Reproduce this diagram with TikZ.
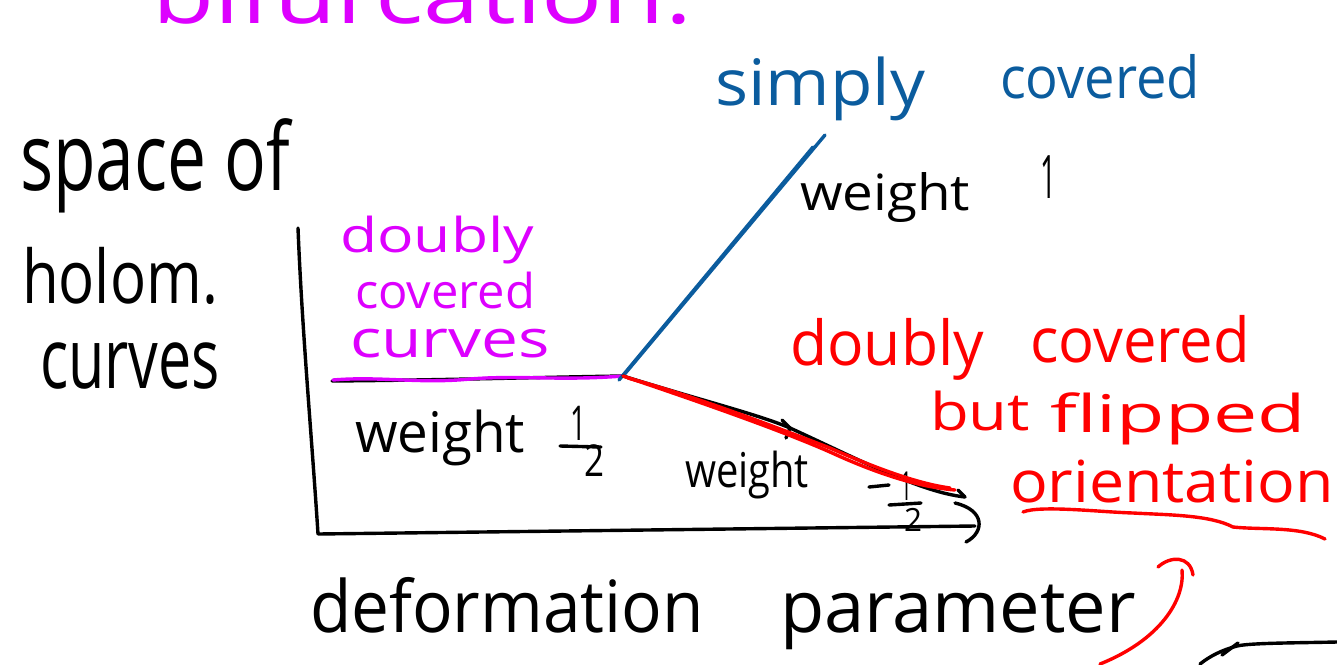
\documentclass[tikz,border=0pt]{standalone}
\usepackage{fontspec}
\setmainfont{Open Sans}
\usepackage{graphicx}
\usetikzlibrary{arrows.meta}
\definecolor{mag}{HTML}{DD00FF}
\definecolor{blu}{HTML}{0B5C9E}
\definecolor{rd}{HTML}{FF0000}
\newcommand\hw[3]{\fontsize{#1}{#1}\selectfont\resizebox{#2}{\height}{#3}}
\begin{document}
\begin{tikzpicture}[x=0.5pt,y=-0.5pt,line cap=round,line join=round,
  txt/.style={anchor=base west,inner sep=0pt,outer sep=0pt},
  ink/.style={line width=1.7pt}]
\useasboundingbox (0,0) rectangle (1337,664);
\clip (0,0) rectangle (1337,664);
% texts
\node[txt,text=mag] (bif) at (152,24) {\hw{40pt}{270pt}{bifurcation.}};
\node[txt] (sp) at (20,190) {\hw{47pt}{135pt}{space of}};
\node[txt] (ho) at (22,303) {\hw{37pt}{98pt}{holom.}};
\node[txt] (cu) at (40,388) {\hw{42pt}{90pt}{curves}};
\node[txt,text=mag] (d1) at (340,252) {\hw{24pt}{97pt}{doubly}};
\node[txt,text=mag] (d2) at (355,308) {\hw{24pt}{90pt}{covered}};
\node[txt,text=mag] (d3) at (350,357) {\hw{26pt}{100pt}{curves}};
\node[txt,text=blu] (s1) at (715,105) {\hw{32pt}{105pt}{simply}};
\node[txt,text=blu] (s2) at (1000,98) {\hw{29pt}{100pt}{covered}};
\node[txt] (w1) at (800,210) {\hw{25pt}{85pt}{weight}};
\node[txt] (one) at (1040,198) {\hw{30pt}{8pt}{1}};
\node[txt,text=rd] (r1) at (790,365) {\hw{31pt}{97pt}{doubly}};
\node[txt,text=rd] (r2) at (1030,362) {\hw{31pt}{110pt}{covered}};
\node[txt,text=rd] (r3) at (930,430) {\hw{26pt}{50pt}{but}};
\node[txt,text=rd] (r4) at (1050,432) {\hw{26pt}{128pt}{flipped}};
\node[txt,text=rd] (r5) at (1010,502) {\hw{29pt}{162pt}{orientation}};
\node[txt] (wh) at (355,452) {\hw{28pt}{85pt}{weight}};
\node[txt] (fh1) at (570,440) {\hw{24pt}{8pt}{1}};
\node[txt] (fh2) at (584,476) {\hw{22pt}{10pt}{2}};
\node[txt] (wm) at (685,487) {\hw{24pt}{62pt}{weight}};
\node[txt] (fm1) at (900,500) {\hw{20pt}{6pt}{1}};
\node[txt] (fm2) at (904,531) {\hw{16pt}{9pt}{2}};
\node[txt] (de) at (310,632) {\hw{36pt}{197pt}{deformation}};
\node[txt] (pa) at (780,632) {\hw{36pt}{178pt}{parameter}};
% fraction bars
\draw[ink] (560,446) -- (601,447);
\draw[ink] (869,487) -- (889,485);
\draw[ink] (889,505) -- (921,503);
% axes
\draw[ink] (298,228) .. controls (302,330) and (312,440) .. (318,534) -- (975,526);
\draw[ink] (955,503) .. controls (985,510) and (985,532) .. (966,542);
% branches
\coordinate (bp) at (623,376);
\draw[ink] (332,381) .. controls (450,380) and (550,377) .. (bp);
\draw[ink,mag] (333,380) .. controls (380,376) and (420,384) .. (470,379)
  .. controls (520,375) and (560,381) .. (bp);
\draw[ink,blu] (bp) -- (825,135);
\draw[ink,blu] (619,380) -- (813,147);
\draw[ink] (bp) .. controls (700,400) and (760,415) .. (790,428)
  .. controls (860,460) and (920,492) .. (965,497);
\draw[ink] (782,420) -- (790,428) -- (786,438);
\draw[ink] (958,490) -- (965,497);
\draw[ink,rd] (bp) .. controls (700,402) and (780,430) .. (830,452)
  .. controls (880,475) and (920,487) .. (955,490);
\draw[ink,rd] (628,378) .. controls (700,398) and (770,425) .. (830,448)
  .. controls (880,470) and (920,484) .. (950,488);
% underline
\draw[ink,rd] (1023,512) .. controls (1040,505) and (1100,512) .. (1133,513)
  .. controls (1170,515) and (1210,515) .. (1233,527)
  .. controls (1260,530) and (1300,526) .. (1325,539);
% red arrow
\draw[ink,rd] (1100,664) .. controls (1160,640) and (1185,600) .. (1182,570);
\draw[ink,rd] (1158,567) .. controls (1170,556) and (1190,555) .. (1193,575);
% bottom right arrow
\draw[ink] (1337,642) .. controls (1290,643) and (1250,643) .. (1237,646)
  .. controls (1222,650) and (1210,656) .. (1200,664);
\draw[ink] (1238,643) -- (1222,655);
\end{tikzpicture}
\end{document}
